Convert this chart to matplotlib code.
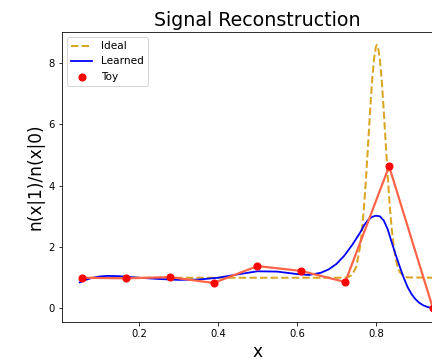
import numpy as np
import matplotlib
matplotlib.use("Agg")
import matplotlib.pyplot as plt

# Ideal ratio: flat at 1 with a narrow peak near x=0.8
ideal_x = [0.05, 0.70, 0.72, 0.73, 0.74, 0.75, 0.76, 0.765, 0.77, 0.775, 0.78, 0.785,
           0.79, 0.795, 0.80, 0.8025, 0.805, 0.81, 0.815, 0.82, 0.825, 0.83, 0.835,
           0.84, 0.845, 0.85, 0.855, 0.86, 0.87, 0.88, 0.95]
ideal_y = [1.0, 1.0, 1.004, 1.02, 1.10, 1.35, 2.02, 2.59, 3.34, 4.27, 5.32, 6.39,
           7.37, 8.12, 8.53, 8.58, 8.53, 8.12, 7.37, 6.39, 5.32, 4.27, 3.34,
           2.59, 2.02, 1.62, 1.35, 1.19, 1.05, 1.01, 1.0]

# Learned ratio (smooth curve)
learned_x = [0.05, 0.065, 0.08, 0.10, 0.12, 0.15, 0.20, 0.25, 0.30, 0.35, 0.40, 0.45,
             0.50, 0.55, 0.60, 0.63, 0.66, 0.68, 0.70, 0.72, 0.74, 0.76, 0.77, 0.78,
             0.79, 0.80, 0.81, 0.82, 0.83, 0.84, 0.85, 0.86, 0.87, 0.88, 0.89, 0.90,
             0.91, 0.92, 0.93, 0.94, 0.95]
learned_y = [0.85, 0.93, 0.99, 1.04, 1.06, 1.05, 1.00, 0.96, 0.93, 0.94, 1.00, 1.11,
             1.21, 1.20, 1.12, 1.09, 1.16, 1.27, 1.45, 1.72, 2.07, 2.47, 2.71, 2.88,
             2.98, 3.02, 3.00, 2.86, 2.57, 2.15, 1.75, 1.37, 1.01, 0.70, 0.47, 0.30,
             0.18, 0.10, 0.05, 0.02, 0.01]

# Toy samples
toy_x = [0.0556, 0.1667, 0.2778, 0.3889, 0.5, 0.6111, 0.7222, 0.8333, 0.9444]
toy_y = [1.0, 0.98, 1.02, 0.83, 1.38, 1.22, 0.86, 4.63, 0.0]

fig = plt.figure(figsize=(6, 361 / 72), dpi=72)
ax = fig.add_axes([0.1435, 0.109, 0.905, 0.803])

ax.plot(ideal_x, ideal_y, '--', color='goldenrod', lw=2, label='Ideal')
ax.plot(learned_x, learned_y, '-', color='blue', lw=1.8, label='Learned')
ax.plot(toy_x, toy_y, '-', color='tomato', lw=2.2)
ax.scatter(toy_x, toy_y, color='red', s=50, zorder=5, label='Toy')

ax.set_xlim(0.005, 0.995)
ax.set_ylim(-0.43, 9.01)
ax.set_xticks([0.2, 0.4, 0.6, 0.8])
ax.set_yticks([0, 2, 4, 6, 8])
ax.tick_params(labelsize=10)

ax.set_title('Signal Reconstruction', fontsize=19)
ax.set_xlabel('x', fontsize=17)
ax.set_ylabel('n(x|1)/n(x|0)', fontsize=17)
ax.legend(loc='upper left', fontsize=10.5)

fig.savefig('out.png', dpi=72)
